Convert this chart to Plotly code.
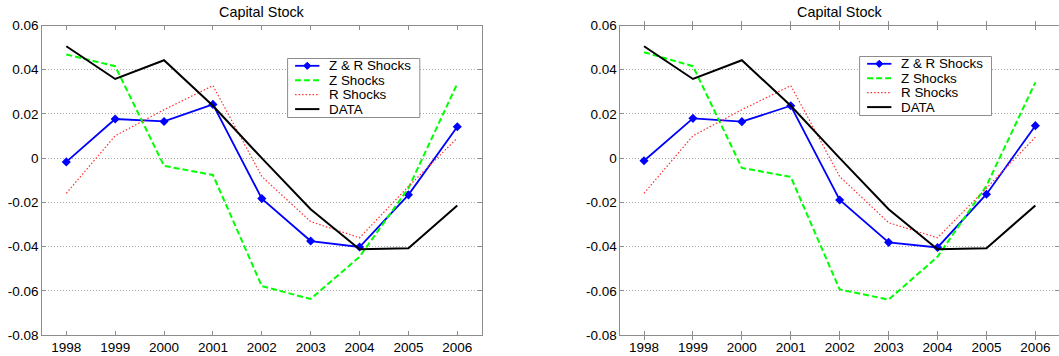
import plotly.graph_objects as go

years = [1998, 1999, 2000, 2001, 2002, 2003, 2004, 2005, 2006]

# Left panel series
zr_left = [-0.0017, 0.0177, 0.0166, 0.0243, -0.0183, -0.0375, -0.0402, -0.0166, 0.0142]
z_left = [0.0469, 0.0416, -0.0035, -0.0076, -0.0579, -0.0637, -0.0446, -0.0136, 0.0337]
r_left = [-0.0159, 0.0101, 0.0219, 0.0328, -0.0083, -0.0287, -0.0360, -0.0128, 0.0091]
data_left = [0.0506, 0.0358, 0.0443, 0.0237, 0.0000, -0.0231, -0.0412, -0.0408, -0.0214]

# Right panel series
zr_right = [-0.0012, 0.0180, 0.0165, 0.0237, -0.0189, -0.0381, -0.0404, -0.0163, 0.0147]
z_right = [0.0479, 0.0416, -0.0044, -0.0085, -0.0594, -0.0640, -0.0446, -0.0125, 0.0343]
r_right = [-0.0159, 0.0101, 0.0219, 0.0328, -0.0083, -0.0292, -0.0360, -0.0136, 0.0095]
data_right = [0.0506, 0.0358, 0.0443, 0.0237, 0.0000, -0.0231, -0.0412, -0.0408, -0.0214]

ytick_vals = [0.06, 0.04, 0.02, 0, -0.02, -0.04, -0.06, -0.08]
ytick_text = ["0.06", "0.04", "0.02", "0", "-0.02", "-0.04", "-0.06", "-0.08"]
names = ["Z & R Shocks", "Z Shocks", "R Shocks", "DATA"]
title_text = "Capital Stock"

FONT = "Liberation Sans, Arial, Helvetica, sans-serif"
W, H = 1059, 356

# styles per series
colors = ["#0000FF", "#00FF00", "#FF3030", "#000000"]
widths = [1.8, 2.0, 1.2, 2.0]
dashes = ["solid", "6px,3px", "1.5px,2px", "solid"]

fig = go.Figure()

def add_panel(xa, ya, series):
    for i, ys in enumerate(series):
        kw = dict(x=years, y=ys, name=names[i], showlegend=False, xaxis=xa, yaxis=ya,
                  line=dict(color=colors[i], width=widths[i], dash=dashes[i]))
        if i == 0:
            kw["mode"] = "lines+markers"
            kw["marker"] = dict(symbol="diamond", size=7, color=colors[i])
        else:
            kw["mode"] = "lines"
        fig.add_trace(go.Scatter(**kw))

add_panel("x", "y", [zr_left, z_left, r_left, data_left])
add_panel("x2", "y2", [zr_right, z_right, r_right, data_right])

# plot-area geometry (pixels)
L1, R1 = 42.3, 481.7
L2 = 620.4
TOP, BOT = 25.5, 335.0
per_year = (457.3 - 66.3) / 8
x1_left = 1998 - (66.3 - L1) / per_year
x1_right = 2006 + (R1 - 457.3) / per_year
x2_left = 1998 - (644.0 - L2) / per_year
x2_right = 2006 + (W - 1035.4) / per_year

def px(x):
    return x / W

def py(y):
    return 1 - y / H

axis_common = dict(showline=True, linecolor="#8c8c8c", linewidth=1, mirror="allticks",
                   ticks="inside", ticklen=4, tickcolor="#8c8c8c", zeroline=False,
                   automargin=False,
                   tickfont=dict(family=FONT, size=13.5, color="#000000"))

xcommon = dict(axis_common, tickvals=years, ticktext=[str(y) for y in years], showgrid=False)
ycommon = dict(axis_common, tickvals=ytick_vals, ticktext=ytick_text, range=[-0.08, 0.06],
               showgrid=True, gridcolor="#a8a8a8", griddash="1px,2px", gridwidth=1)

# Manual MATLAB-style legends
shapes = []
annotations = []
leg_boxes = [(287.6, 58.5, 419.8, 117.5), (859.6, 56.5, 991.5, 115.5)]
for (bx0, by0, bx1, by1) in leg_boxes:
    shapes.append(dict(type="rect", xref="paper", yref="paper",
                       x0=px(bx0), x1=px(bx1), y0=py(by0), y1=py(by1),
                       line=dict(color="#8c8c8c", width=1), fillcolor="white", layer="above"))
    row_y = [by0 + 7.3, by0 + 21.8, by0 + 36.2, by0 + 50.6]
    lx0, lx1 = bx0 + 7.5, bx0 + 31.8
    for i in range(4):
        shapes.append(dict(type="line", xref="paper", yref="paper",
                           x0=px(lx0), x1=px(lx1), y0=py(row_y[i]), y1=py(row_y[i]),
                           line=dict(color=colors[i], width=widths[i], dash=dashes[i]),
                           layer="above"))
        if i == 0:
            cx, cy, s = (lx0 + lx1) / 2, row_y[i], 3.6
            path = (f"M {px(cx)},{py(cy - s)} L {px(cx + s)},{py(cy)} "
                    f"L {px(cx)},{py(cy + s)} L {px(cx - s)},{py(cy)} Z")
            shapes.append(dict(type="path", xref="paper", yref="paper", path=path,
                               fillcolor=colors[0], line=dict(color=colors[0], width=1), layer="above"))
        annotations.append(dict(text=names[i], x=px(bx0 + 39.7), y=py(row_y[i]), xref="paper", yref="paper",
                                showarrow=False, xanchor="left", yanchor="middle",
                                font=dict(family=FONT, size=13.4, color="#000000")))

annotations.append(dict(text=title_text, x=px((L1 + R1) / 2), y=py(11.7), xref="paper", yref="paper",
                        showarrow=False, xanchor="center", yanchor="middle", font=dict(family=FONT, size=14.4)))
annotations.append(dict(text=title_text, x=px((L2 + 1060) / 2), y=py(11.7), xref="paper", yref="paper",
                        showarrow=False, xanchor="center", yanchor="middle", font=dict(family=FONT, size=14.4)))

fig.update_layout(
    width=W, height=H,
    margin=dict(l=0, r=0, t=0, b=0, autoexpand=False),
    paper_bgcolor="white", plot_bgcolor="white",
    font=dict(family=FONT, size=13.5, color="#000000"),
    showlegend=False,
    xaxis=dict(xcommon, domain=[px(L1), px(R1)], range=[x1_left, x1_right], anchor="y"),
    yaxis=dict(ycommon, domain=[py(BOT), py(TOP)], anchor="x"),
    xaxis2=dict(xcommon, domain=[px(L2), 1.0], range=[x2_left, x2_right], anchor="y2"),
    yaxis2=dict(ycommon, domain=[py(BOT), py(TOP)], anchor="x2", mirror=False),
    # right-side inside ticks for the right panel (its border lies beyond the window edge)
    yaxis3=dict(overlaying="y2", side="right", anchor="x2", range=[-0.08, 0.06],
                tickvals=ytick_vals, showticklabels=False, ticks="inside", ticklen=4,
                tickcolor="#8c8c8c", showline=False, showgrid=False, zeroline=False,
                automargin=False),
    shapes=shapes,
    annotations=annotations,
)

# invisible anchor trace so the right-tick axis is drawn
fig.add_trace(go.Scatter(x=[years[0]], y=[ytick_vals[0]], xaxis="x2", yaxis="y3", mode="markers",
                         marker=dict(opacity=0), showlegend=False, hoverinfo="skip"))

fig.write_html("out.html")
